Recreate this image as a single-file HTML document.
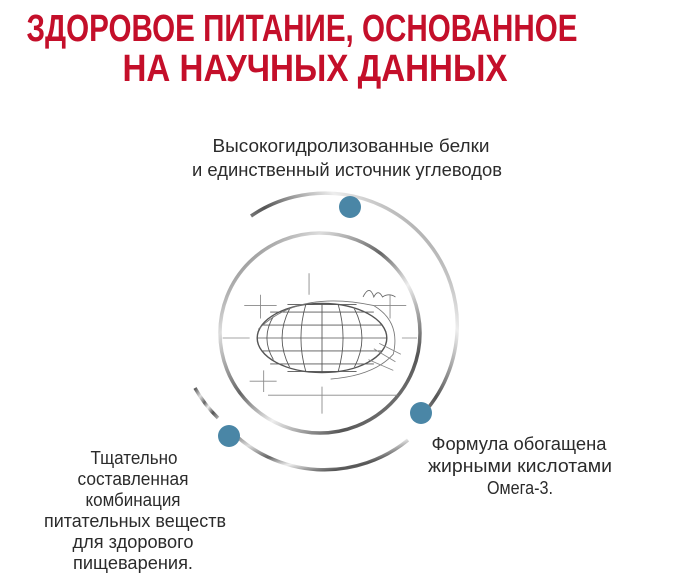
<!DOCTYPE html>
<html><head><meta charset="utf-8"><style>
html,body{margin:0;padding:0;background:#fff;width:686px;height:588px;overflow:hidden}
svg{display:block}
.t{font-family:"Liberation Sans Narrow","Liberation Sans",sans-serif;font-size:18px;fill:#2b2b2b}
.h{font-family:"Liberation Sans Narrow","Liberation Sans",sans-serif;font-weight:bold;font-size:38px;fill:#c40f2a}
</style></head><body>
<svg width="686" height="588" viewBox="0 0 686 588">
<defs>
<linearGradient id="m" x1="0" y1="0" x2="1" y2="1">
<stop offset="0" stop-color="#555"/><stop offset="0.25" stop-color="#ddd"/><stop offset="0.45" stop-color="#666"/><stop offset="0.6" stop-color="#eee"/><stop offset="0.8" stop-color="#555"/><stop offset="1" stop-color="#aaa"/>
</linearGradient>
<linearGradient id="m2" x1="1" y1="0" x2="0" y2="1">
<stop offset="0" stop-color="#666"/><stop offset="0.3" stop-color="#eee"/><stop offset="0.5" stop-color="#555"/><stop offset="0.7" stop-color="#ddd"/><stop offset="1" stop-color="#555"/>
</linearGradient>
</defs>
<text class="h" x="302" y="41" text-anchor="middle" textLength="551" lengthAdjust="spacingAndGlyphs">ЗДОРОВОЕ ПИТАНИЕ, ОСНОВАННОЕ</text>
<text class="h" x="315" y="81" text-anchor="middle" textLength="385" lengthAdjust="spacingAndGlyphs">НА НАУЧНЫХ ДАННЫХ</text>

<text class="t" x="351" y="152" text-anchor="middle" textLength="277" lengthAdjust="spacingAndGlyphs">Высокогидролизованные белки</text>
<text class="t" x="347" y="176" text-anchor="middle" textLength="310" lengthAdjust="spacingAndGlyphs">и единственный источник углеводов</text>

<text class="t" x="519" y="450" text-anchor="middle" textLength="175" lengthAdjust="spacingAndGlyphs">Формула обогащена</text>
<text class="t" x="520" y="472" text-anchor="middle" textLength="184" lengthAdjust="spacingAndGlyphs">жирными кислотами</text>
<text class="t" x="520" y="494" text-anchor="middle" textLength="66" lengthAdjust="spacingAndGlyphs">Омега-3.</text>

<text class="t" x="134" y="464" text-anchor="middle" textLength="87" lengthAdjust="spacingAndGlyphs">Тщательно</text>
<text class="t" x="133" y="485" text-anchor="middle" textLength="111" lengthAdjust="spacingAndGlyphs">составленная</text>
<text class="t" x="133" y="506" text-anchor="middle" textLength="95" lengthAdjust="spacingAndGlyphs">комбинация</text>
<text class="t" x="135" y="527" text-anchor="middle" textLength="182" lengthAdjust="spacingAndGlyphs">питательных веществ</text>
<text class="t" x="133" y="548" text-anchor="middle" textLength="121" lengthAdjust="spacingAndGlyphs">для здорового</text>
<text class="t" x="133" y="569" text-anchor="middle" textLength="120" lengthAdjust="spacingAndGlyphs">пищеварения.</text>

<circle cx="320" cy="333" r="100" fill="none" stroke="url(#m)" stroke-width="3.5"/>
<path d="M251,216 A132,132 0 0 1 416,421" fill="none" stroke="url(#m2)" stroke-width="3.5"/>
<path d="M408,440 A132,132 0 0 1 230,430" fill="none" stroke="url(#m)" stroke-width="3.5"/>
<path d="M218,418 A132,132 0 0 1 195,388" fill="none" stroke="url(#m)" stroke-width="3.5"/>

<g fill="none" stroke="#555" stroke-width="0.8" transform="translate(322,338) scale(1.08) translate(-312,-330)">
<ellipse cx="312" cy="330" rx="60" ry="32" stroke-width="1.3"/>
<path d="M252,330 H372 M256,318 H368 M256,342 H368 M264,306 H360 M264,354 H360 M280,299 H344 M280,361 H344"/>
<path d="M312,298 V362 M297,299 Q288,330 297,361 M282,303 Q268,330 282,357 M267,310 Q255,330 267,350 M327,299 Q336,330 327,361 M342,303 Q356,330 342,357"/>
<path d="M253,322 Q290,285 360,300 Q385,315 378,345 Q360,365 320,368" stroke="#777"/>
<path d="M360,340 L380,352 M355,350 L378,360 M365,335 L385,345" stroke="#888"/>
<path d="M240,300 H270 M255,290 V312 M300,270 V290 M220,330 H245 M386,330 H400 M245,370 H270 M258,360 V380 M262,383 H382 M312,375 V400 M360,300 H390 M375,290 V312" stroke="#888"/>
<path d="M350,292 q6,-12 10,0 q4,-8 8,0 q6,-4 12,0" stroke="#666"/>
</g>

<circle cx="350" cy="207" r="11" fill="#4a86a6"/>
<circle cx="421" cy="413" r="11" fill="#4a86a6"/>
<circle cx="229" cy="436" r="11" fill="#4a86a6"/>
</svg>
</body></html>
